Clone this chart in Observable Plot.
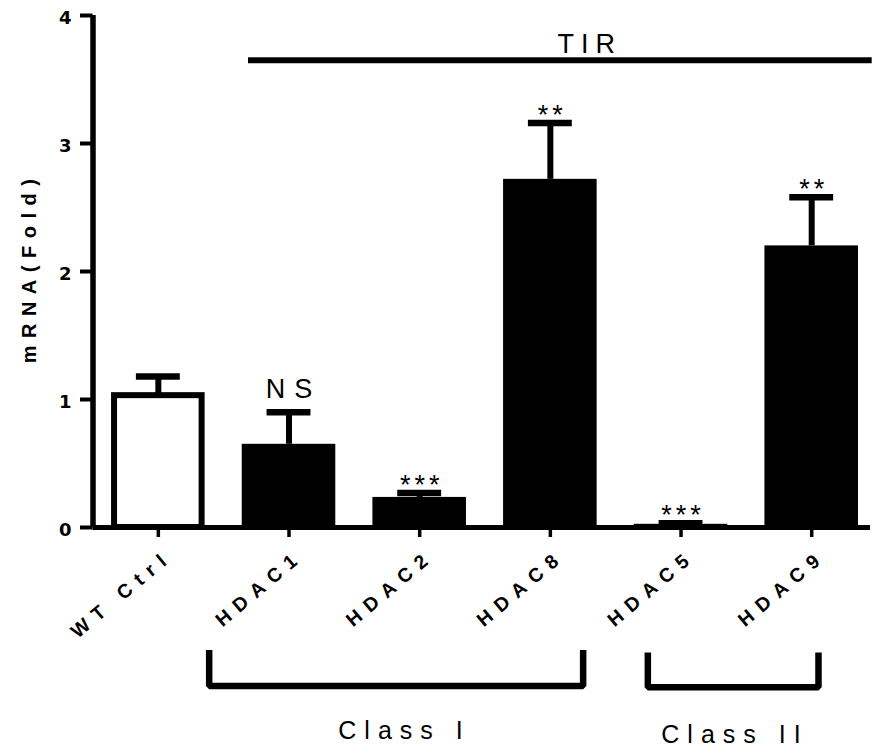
<!DOCTYPE html>
<html>
<head>
<meta charset="utf-8">
<script src="https://cdn.jsdelivr.net/npm/d3@7"></script>
<script src="https://cdn.jsdelivr.net/npm/@observablehq/plot@0.6"></script>
<style>
  html, body { margin: 0; padding: 0; background: #fff; }
  #chart svg { display: block; }
</style>
</head>
<body>
<div id="chart"></div>
<script>
// ---- data ----
const groups = ["WT Ctrl", "HDAC1", "HDAC2", "HDAC8", "HDAC5", "HDAC9"];
// mean relative mRNA level (fold of WT control)
const foldMean = [1.03, 0.65, 0.235, 2.72, 0.025, 2.20];
// top of each error bar (mean + SEM)
const foldUpper = [1.18, 0.90, 0.27, 3.16, 0.033, 2.58];
// significance versus WT control
const significance = ["", "NS", "***", "**", "***", "**"];
const yTicks = [0, 1, 2, 3, 4];
const yTitle = "mRNA(Fold)";
const treatmentLabel = "TIR";
const classNames = ["Class I", "Class II"];

// ---- layout of the annotations (x in group index units, y in fold units) ----
const xDomain = [-0.5, 5.45];
const barHalf = 0.358, capHalf = 0.168;
const tirLevel = 3.65, tirFrom = 0.69, tirTo = 5.463;
const tirLabelX = 3.274, tirLabelY = 3.708;
const classFrom = [0.389, 3.746], classTo = [3.251, 5.052];
const bracketTop = [-0.957, -0.977], bracketBottom = [-1.239, -1.248];
const classLabelX = [1.853, 4.382], classLabelY = [-1.652, -1.681];

const rows = groups.map((name, i) => ({name, i, mean: foldMean[i], upper: foldUpper[i], sig: significance[i]}));
const control = rows.filter(d => d.i === 0);
const treated = rows.filter(d => d.i !== 0);

const brackets = classNames.flatMap((cls, k) => [
  {cls, x: classFrom[k], y: bracketTop[k]},
  {cls, x: classFrom[k], y: bracketBottom[k]},
  {cls, x: classTo[k], y: bracketBottom[k]},
  {cls, x: classTo[k], y: bracketTop[k]}
]);
const classRows = classNames.map((label, k) => ({label, x: classLabelX[k], y: classLabelY[k]}));

const font = "'Liberation Sans', Arial, Helvetica, sans-serif";

const chart = Plot.plot({
  width: 874,
  height: 753,
  marginLeft: 92.5,
  marginRight: 4,
  marginTop: 15,
  marginBottom: 226,
  style: {fontFamily: font, background: "white", color: "black"},
  x: {type: "linear", domain: xDomain},
  y: {type: "linear", domain: [0, 4]},
  marks: [
    // y axis: ticks, tick labels and spine
    Plot.axisY({ticks: yTicks, tickSize: 12.5, strokeWidth: 4, fill: "none",
                tickFormat: () => "", label: null}),
    Plot.text(yTicks, {x: xDomain[0], y: d => d, text: d => String(d), textAnchor: "end",
              fontSize: 18, fontFamily: "'DejaVu Sans', sans-serif", fontWeight: "bold", dx: -21.5, dy: 2.5}),
    Plot.ruleX([xDomain[0]], {y1: 0, y2: 4, strokeWidth: 5.5}),
    // x axis: ticks and baseline
    Plot.axisX({ticks: rows.map(d => d.i), tickSize: 10, strokeWidth: 3.5, fill: "none",
                tickFormat: () => "", label: null}),
    Plot.ruleY([0], {x1: xDomain[0], x2: xDomain[1], strokeWidth: 5}),

    // bars
    Plot.rectY(treated, {x1: d => d.i - barHalf, x2: d => d.i + barHalf, y1: 0, y2: "mean", fill: "black"}),
    Plot.rectY(control, {x1: d => d.i - barHalf, x2: d => d.i + barHalf, y1: 0, y2: "mean",
                         fill: "white", stroke: "black", strokeWidth: 6, insetLeft: 3, insetRight: 3}),

    // error bars
    Plot.ruleX(rows, {x: "i", y1: "mean", y2: "upper", strokeWidth: 6}),
    Plot.ruleY(rows, {y: "upper", x1: d => d.i - capHalf, x2: d => d.i + capHalf, strokeWidth: 6.5}),

    // significance marks
    Plot.text(rows.filter(d => d.sig.startsWith("*")), {x: "i", y: "upper", text: "sig", lineAnchor: "bottom",
              fontSize: 27, dx: 2, dy: 1}),
    Plot.text(rows.filter(d => d.sig === "NS"), {x: "i", y: "upper", text: "sig", lineAnchor: "bottom",
              fontSize: 27, dx: 4.5, dy: -14.5}),

    // treatment bar
    Plot.ruleY([tirLevel], {x1: tirFrom, x2: tirTo, strokeWidth: 6}),
    Plot.text([treatmentLabel], {x: tirLabelX, y: tirLabelY, text: d => d, fontSize: 27,
              lineAnchor: "bottom", dx: 3.5}),

    // group labels under the ticks
    Plot.text(rows, {x: "i", y: 0, text: "name", rotate: -40, textAnchor: "end", lineAnchor: "bottom",
              fontSize: 19.5, fontWeight: "bold", dx: 15.5, dy: 31}),

    // class brackets
    Plot.line(brackets, {x: "x", y: "y", z: "cls", strokeWidth: 6.5, strokeLinejoin: "miter", strokeLinecap: "butt"}),
    Plot.text(classRows, {x: "x", y: "y", text: "label", fontSize: 25, lineAnchor: "bottom", dx: 4}),

    // y title
    Plot.text([yTitle], {frameAnchor: "left", text: d => d, rotate: -90, fontSize: 20, fontWeight: "bold",
              textAnchor: "middle", lineAnchor: "bottom", dx: -57.5, dy: -4})
  ]
});

// letter spacing of the wide-set labels
const spacingOf = text => {
  if (groups.includes(text)) return 8;
  if (classNames.includes(text)) return 8;
  if (text === treatmentLabel) return 7;
  if (text === yTitle) return 7.5;
  if (text === "NS") return 9;
  if (/^\*+$/.test(text)) return 4;
  return 0;
};
d3.select(chart).selectAll("text").each(function() {
  const px = spacingOf(this.textContent);
  if (px) this.style.letterSpacing = px + "px";
});

document.getElementById("chart").appendChild(chart);
</script>
</body>
</html>
